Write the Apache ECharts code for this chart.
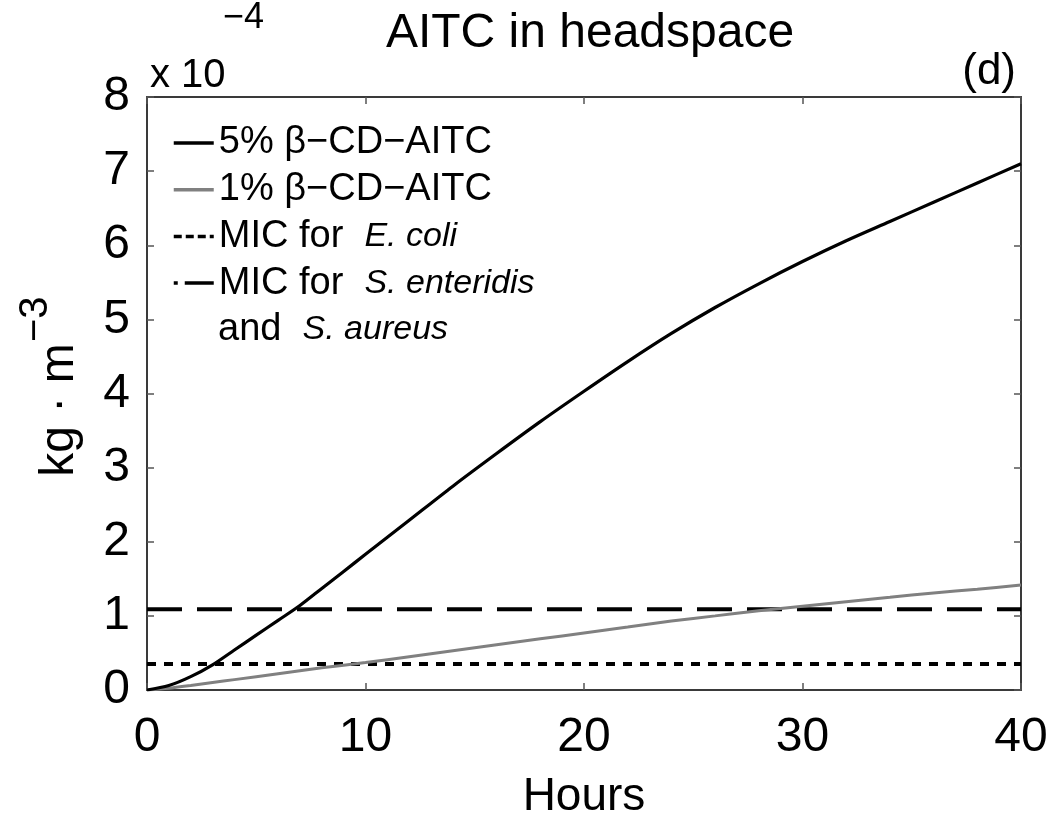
<!DOCTYPE html>
<html>
<head>
<meta charset="utf-8">
<script src="https://cdn.jsdelivr.net/npm/echarts@6/dist/echarts.min.js"></script>
<style>
  html, body { margin: 0; padding: 0; background: #fff; }
  #chart { width: 1059px; height: 821px; }
</style>
</head>
<body>
<div id="chart"></div>
<script>
// Hours since packaging
const hours5 = [0, 1, 2, 3, 4, 5, 6, 7, 8, 9, 10, 12, 14, 16, 18, 20, 22, 24, 26, 28, 30, 32, 34, 36, 38, 40];
// AITC concentration in headspace, 5% beta-CD-AITC (x 1e-4 kg/m^3)
const conc5 = [0, 0.06, 0.18, 0.34, 0.54, 0.74, 0.94, 1.14, 1.37, 1.6, 1.83, 2.29, 2.75, 3.19, 3.62, 4.03, 4.43, 4.81, 5.16, 5.48, 5.78, 6.06, 6.32, 6.58, 6.84, 7.1];

const hours1 = [0, 1, 2, 3, 4, 6, 8, 10, 12, 14, 16, 18, 20, 22, 24, 26, 28, 30, 32, 34, 36, 38, 40];
// AITC concentration in headspace, 1% beta-CD-AITC (x 1e-4 kg/m^3)
const conc1 = [0, 0.025, 0.06, 0.1, 0.14, 0.22, 0.3, 0.37, 0.45, 0.53, 0.61, 0.69, 0.77, 0.85, 0.93, 1.0, 1.07, 1.13, 1.19, 1.25, 1.31, 1.36, 1.415];

// Minimum inhibitory concentrations (x 1e-4 kg/m^3)
const micEcoli = 0.35;
const micSalmStaph = 1.09;
const hourRange = [0, 40];

const xTicks = { min: 0, max: 40, interval: 10 };
const yTicks = { min: 0, max: 8, interval: 1 };

const seriesNames = ['5% β−CD−AITC', '1% β−CD−AITC', 'MIC for E. coli', 'MIC for S. enteridis'];

const FONT = '"Liberation Sans", Arial, Helvetica, sans-serif';
const AXIS_COLOR = '#3a3a3a';

const chart = echarts.init(document.getElementById('chart'), null, { renderer: 'canvas' });

function pairs(xs, ys) { return xs.map((x, i) => [x, ys[i]]); }

const baseX = {
  type: 'value', min: xTicks.min, max: xTicks.max, interval: xTicks.interval,
  axisLine: { show: true, onZero: false, lineStyle: { color: AXIS_COLOR, width: 2 } },
  axisTick: { show: true, inside: true, length: 7, lineStyle: { color: '#555', width: 1.5 } },
  splitLine: { show: false }
};
const baseY = {
  type: 'value', min: yTicks.min, max: yTicks.max, interval: yTicks.interval,
  axisLine: { show: true, onZero: false, lineStyle: { color: AXIS_COLOR, width: 2 } },
  axisTick: { show: true, inside: true, length: 7, lineStyle: { color: '#555', width: 1.5 } },
  splitLine: { show: false }
};

const option = {
  animation: false,
  backgroundColor: '#ffffff',
  textStyle: { fontFamily: FONT },
  grid: { left: 147, right: 38, top: 97, bottom: 131, containLabel: false, outerBoundsMode: 'none' },
  xAxis: [
    Object.assign({}, baseX, {
      position: 'bottom',
      axisLabel: { show: true, color: '#000', fontSize: 48, fontFamily: FONT, margin: 24 }
    }),
    Object.assign({}, baseX, { position: 'top', axisLabel: { show: false } })
  ],
  yAxis: [
    Object.assign({}, baseY, {
      position: 'left',
      axisLabel: { show: true, color: '#000', fontSize: 48, fontFamily: FONT, margin: 17 }
    }),
    Object.assign({}, baseY, { position: 'right', axisLabel: { show: false } })
  ],
  legend: {
    orient: 'vertical',
    left: 172,
    top: 120,
    itemWidth: 40,
    itemHeight: 14,
    itemGap: 0.7,
    padding: 0,
    selectedMode: false,
    itemStyle: { opacity: 0, borderWidth: 0 },
    lineStyle: { width: 3.5 },
    textStyle: {
      fontFamily: FONT, fontSize: 38, color: '#000', lineHeight: 46,
      rich: {
        i: { fontFamily: FONT, fontSize: 34, fontStyle: 'italic', color: '#000', lineHeight: 46 }
      }
    },
    formatter: function (name) {
      if (name === seriesNames[2]) return 'MIC for  {i|E. coli}';
      if (name === seriesNames[3]) return 'MIC for  {i|S. enteridis}';
      return name;
    },
    data: [
      { name: seriesNames[0] },
      { name: seriesNames[1] },
      { name: seriesNames[2], lineStyle: { type: [8, 4], width: 3.5 } },
      { name: seriesNames[3], lineStyle: { type: [4, 7, 29, 0], width: 3.5 } }
    ]
  },
  series: [
    {
      name: seriesNames[0], type: 'line', xAxisIndex: 0, yAxisIndex: 0,
      data: pairs(hours5, conc5), smooth: 0.3, symbol: 'none',
      lineStyle: { color: '#000000', width: 3.2 }, itemStyle: { color: '#000000' }, z: 4
    },
    {
      name: seriesNames[1], type: 'line', xAxisIndex: 0, yAxisIndex: 0,
      data: pairs(hours1, conc1), smooth: 0.3, symbol: 'none',
      lineStyle: { color: '#808080', width: 3 }, itemStyle: { color: '#808080' }, z: 3
    },
    {
      name: seriesNames[2], type: 'line', xAxisIndex: 0, yAxisIndex: 0,
      data: hourRange.map(h => [h, micEcoli]), symbol: 'none',
      lineStyle: { color: '#000000', width: 4, type: [9, 8] }, itemStyle: { color: '#000000' }, z: 2
    },
    {
      name: seriesNames[3], type: 'line', xAxisIndex: 0, yAxisIndex: 0,
      data: hourRange.map(h => [h, micSalmStaph]), symbol: 'none',
      lineStyle: { color: '#000000', width: 4, type: [35, 15] }, itemStyle: { color: '#000000' }, z: 2
    }
  ],
  graphic: [
    // chart title
    { type: 'text', x: 590, y: 34, style: {
        text: 'AITC in headspace', font: '48px ' + FONT, fill: '#000',
        textAlign: 'center', textVerticalAlign: 'middle' } },
    // axis multiplier
    { type: 'text', x: 150, y: 76, style: {
        text: 'x 10', font: '40px ' + FONT, fill: '#000',
        textAlign: 'left', textVerticalAlign: 'middle' } },
    { type: 'text', x: 223, y: 18, style: {
        text: '−4', font: '36px ' + FONT, fill: '#000',
        textAlign: 'left', textVerticalAlign: 'middle' } },
    // panel tag
    { type: 'text', x: 1016, y: 72, style: {
        text: '(d)', font: '44px ' + FONT, fill: '#000',
        textAlign: 'right', textVerticalAlign: 'middle' } },
    // second line of the last legend entry
    { type: 'text', x: 218, y: 330, style: {
        rich: { i: { font: 'italic 34px ' + FONT, fill: '#000' }, n: { font: '38px ' + FONT, fill: '#000' } },
        text: '{n|and  }{i|S. aureus}',
        textAlign: 'left', textVerticalAlign: 'middle' } },
    // x axis title
    { type: 'text', x: 584, y: 797, style: {
        text: 'Hours', font: '46px ' + FONT, fill: '#000',
        textAlign: 'center', textVerticalAlign: 'middle' } },
    // y axis title, rotated to read bottom to top
    { type: 'group', x: 60, y: 410, rotation: Math.PI / 2, children: [
        { type: 'text', x: 0, y: 0, style: {
            text: 'kg · m', font: '48px ' + FONT, fill: '#000',
            textAlign: 'center', textVerticalAlign: 'middle' } },
        { type: 'text', x: 68, y: -24, style: {
            text: '−3', font: '40px ' + FONT, fill: '#000',
            textAlign: 'left', textVerticalAlign: 'middle' } }
    ] }
  ]
};

chart.setOption(option);
</script>
</body>
</html>
